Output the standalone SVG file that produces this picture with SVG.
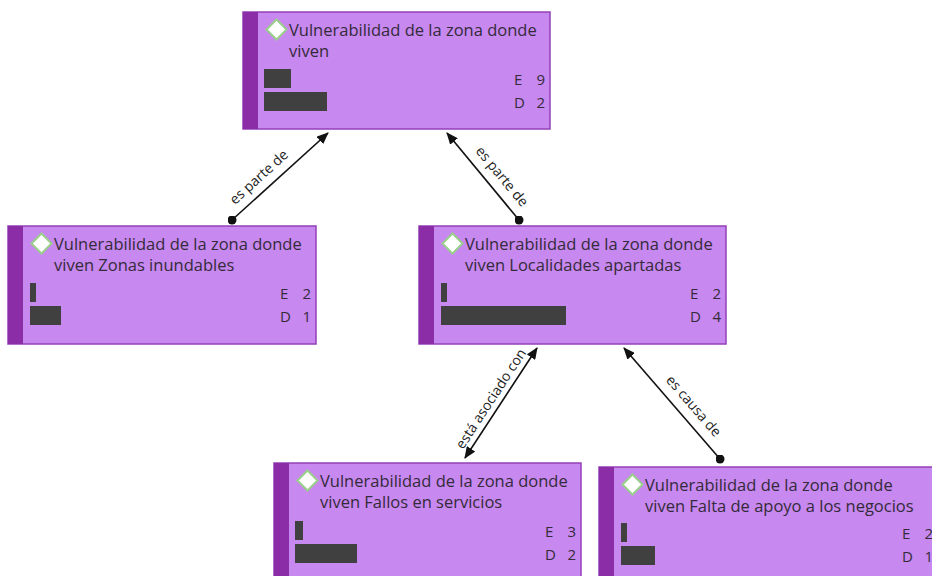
<svg xmlns="http://www.w3.org/2000/svg" width="932" height="576" viewBox="0 0 932 576">
<style>
.box{fill:#C788EF;stroke:#9440B8;stroke-width:1.5}
.stripe{fill:#8A2DA6}
.dia{fill:#fff;stroke:#9ACF8C;stroke-width:2}
.title{font-family:"Open Sans","Noto Sans",sans-serif;font-size:16.5px;fill:#342b3a}
.ed{font-family:"Open Sans","Noto Sans",sans-serif;font-size:15px;fill:#342b3a}
.num{text-anchor:end}
.bar{fill:#404040}
.edge{stroke:#111;stroke-width:1.6;fill:none}
.lbl{font-family:"Open Sans","Noto Sans",sans-serif;font-size:14px;fill:#222;text-anchor:middle}
</style>
<defs>
<marker id="arr" viewBox="0 0 12 10" refX="11" refY="5" markerWidth="12" markerHeight="10" markerUnits="userSpaceOnUse" orient="auto-start-reverse">
<path d="M0,0 L12,5 L0,10 Z" fill="#111"/>
</marker>
<marker id="dot" viewBox="0 0 10 10" refX="5" refY="5" markerWidth="9" markerHeight="9" markerUnits="userSpaceOnUse">
<circle cx="5" cy="5" r="5" fill="#111"/>
</marker>
</defs>

<g id="connectors">
<path class="edge" d="M232,220 L328,133" marker-start="url(#dot)" marker-end="url(#arr)"/>
<path class="edge" d="M519,220 L447,133" marker-start="url(#dot)" marker-end="url(#arr)"/>
<path class="edge" d="M465,458 L537,348" marker-start="url(#arr)" marker-end="url(#arr)"/>
<path class="edge" d="M720,459 L624,348" marker-start="url(#dot)" marker-end="url(#arr)"/>
<text class="lbl" transform="translate(280,176.5) rotate(-42.2)" x="-16" y="-9">es parte de</text>
<text class="lbl" transform="translate(483,176.5) rotate(50.4)" x="12" y="-10">es parte de</text>
<text class="lbl" transform="translate(501,403) rotate(-56.8)" x="-2" y="-6">está asociado con</text>
<text class="lbl" transform="translate(672,403.5) rotate(49.1)" x="16" y="-10">es causa de</text>
</g>

<g id="node-vivien" transform="translate(243,12)">
<rect class="box" x="0" y="0" width="307" height="117"/>
<rect class="stripe" x="0" y="0" width="15" height="117"/>
<path class="dia" d="M33.5,7.5 L43.5,17.5 L33.5,27.5 L23.5,17.5 Z"/>
<text class="title" x="46" y="24">Vulnerabilidad de la zona donde<tspan x="46" dy="21">viven</tspan></text>
<rect class="bar" x="21" y="57" width="27" height="19"/>
<rect class="bar" x="21" y="80" width="63" height="19"/>
<text class="ed" x="271" y="73">E</text><text class="ed num" x="302" y="73">9</text>
<text class="ed" x="271" y="96">D</text><text class="ed num" x="302" y="96">2</text>
</g>

<g id="node-inundables" transform="translate(8,226)">
<rect class="box" x="0" y="0" width="308" height="118"/>
<rect class="stripe" x="0" y="0" width="15" height="118"/>
<path class="dia" d="M33.5,7.5 L43.5,17.5 L33.5,27.5 L23.5,17.5 Z"/>
<text class="title" x="46" y="24">Vulnerabilidad de la zona donde<tspan x="46" dy="21">viven Zonas inundables</tspan></text>
<rect class="bar" x="22" y="57" width="6" height="19"/>
<rect class="bar" x="22" y="80" width="31" height="19"/>
<text class="ed" x="272" y="73">E</text><text class="ed num" x="303" y="73">2</text>
<text class="ed" x="272" y="96">D</text><text class="ed num" x="303" y="96">1</text>
</g>

<g id="node-localidades" transform="translate(419,226)">
<rect class="box" x="0" y="0" width="307" height="118"/>
<rect class="stripe" x="0" y="0" width="15" height="118"/>
<path class="dia" d="M33.5,7.5 L43.5,17.5 L33.5,27.5 L23.5,17.5 Z"/>
<text class="title" x="46" y="24">Vulnerabilidad de la zona donde<tspan x="46" dy="21">viven Localidades apartadas</tspan></text>
<rect class="bar" x="22" y="57" width="6" height="19"/>
<rect class="bar" x="22" y="80" width="125" height="19"/>
<text class="ed" x="271" y="73">E</text><text class="ed num" x="302" y="73">2</text>
<text class="ed" x="271" y="96">D</text><text class="ed num" x="302" y="96">4</text>
</g>

<g id="node-fallos" transform="translate(274,463)">
<rect class="box" x="0" y="0" width="307" height="120"/>
<rect class="stripe" x="0" y="0" width="15" height="120"/>
<path class="dia" d="M33.5,7.5 L43.5,17.5 L33.5,27.5 L23.5,17.5 Z"/>
<text class="title" x="46" y="24">Vulnerabilidad de la zona donde<tspan x="46" dy="21">viven Fallos en servicios</tspan></text>
<rect class="bar" x="21" y="58" width="8" height="19"/>
<rect class="bar" x="21" y="81" width="62" height="19"/>
<text class="ed" x="271" y="74">E</text><text class="ed num" x="302" y="74">3</text>
<text class="ed" x="271" y="97">D</text><text class="ed num" x="302" y="97">2</text>
</g>

<g id="node-negocios" transform="translate(599,467)">
<rect class="box" x="0" y="0" width="340" height="120"/>
<rect class="stripe" x="0" y="0" width="15" height="120"/>
<path class="dia" d="M33.5,7.5 L43.5,17.5 L33.5,27.5 L23.5,17.5 Z"/>
<text class="title" x="46" y="24">Vulnerabilidad de la zona donde<tspan x="46" dy="21">viven Falta de apoyo a los negocios</tspan></text>
<rect class="bar" x="22" y="56" width="6" height="19"/>
<rect class="bar" x="22" y="79" width="34" height="19"/>
<text class="ed" x="303" y="72">E</text><text class="ed num" x="334" y="72">2</text>
<text class="ed" x="303" y="95">D</text><text class="ed num" x="334" y="95">1</text>
</g>
</svg>
